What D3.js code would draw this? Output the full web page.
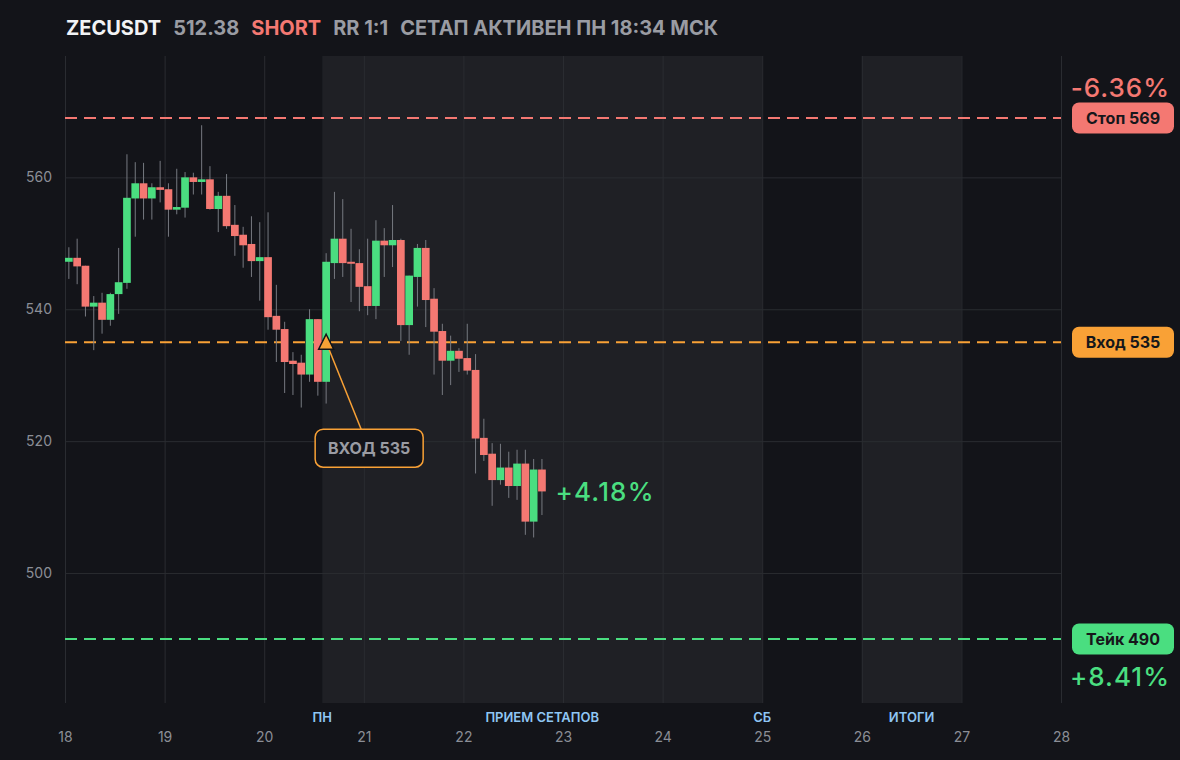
<!DOCTYPE html>
<html>
<head>
<meta charset="utf-8">
<script src="https://cdn.jsdelivr.net/npm/d3@7"></script>
<style>
    html, body { margin: 0; padding: 0; background: #131419; }
    svg { display: block; font-family: Inter, "Noto Sans", sans-serif; }
</style>
</head>
<body>
<div id="chart"></div>
<script>
// ZECUSDT 2h candles with stop / entry / take levels and session shading.

const WIDTH = 1180;
const HEIGHT = 760;
const MARGIN = { top: 56, right: 119, bottom: 57, left: 65 };
const INNER_W = WIDTH - MARGIN.left - MARGIN.right;
const INNER_H = HEIGHT - MARGIN.top - MARGIN.bottom;

const COLORS = {
    bg: "#131419",
    shade: "#1f2025",
    grid: "#2a2c31",
    tick: "#8b8e96",
    wick: "#767980",
    up: "#4ade80",
    down: "#f47872",
    entry: "#f9a136",
    session: "#8fc6f4",
    head: "#9a9ca3",
};

// first candle opens 18th 00:00, every candle is 2h
const START = Date.UTC(2025, 10, 18);
const STEP_H = 2;
const X_DOMAIN = [new Date(START), new Date(Date.UTC(2025, 10, 28))];
const Y_DOMAIN = [480.3, 578.4];
const Y_TICKS = [500, 520, 540, 560];

const opens = [
    547.2, 547.8, 546.6, 540.4, 541.0, 538.4, 542.3, 544.0, 556.8, 559.1,
    556.8, 558.5, 558.2, 555.1, 555.4, 560.0, 559.3, 559.7, 555.2, 557.2,
    552.8, 551.3, 549.9, 547.3, 547.9, 539.0, 537.0, 532.2, 531.9, 530.1,
    538.5, 529.0, 547.0, 550.7, 547.2, 547.0, 543.5, 540.5, 550.4, 549.7,
    550.5, 537.6, 544.9, 549.3, 541.6, 536.7, 532.2, 533.7, 532.6, 530.8,
    520.5, 518.1, 514.1, 516.0, 513.2, 516.6, 507.8, 515.7,
];
const highs = [
    549.4, 550.7, 546.6, 542.0, 542.5, 542.5, 549.3, 563.5, 562.3, 562.2,
    559.1, 562.5, 559.1, 561.3, 560.8, 560.7, 567.9, 561.7, 557.8, 560.5,
    555.8, 552.5, 554.1, 553.2, 554.7, 543.7, 538.1, 533.5, 533.1, 540.0,
    538.5, 548.5, 557.8, 556.7, 552.2, 549.1, 550.7, 553.5, 552.3, 555.8,
    550.7, 545.1, 549.9, 550.5, 543.2, 537.8, 536.0, 534.1, 537.8, 533.2,
    523.4, 519.7, 519.6, 518.4, 518.7, 518.7, 517.3, 517.3,
];
const lows = [
    544.6, 543.8, 538.9, 533.8, 536.3, 537.5, 539.3, 543.1, 551.0, 553.6,
    553.6, 556.2, 551.0, 554.4, 553.9, 557.4, 557.4, 555.1, 551.7, 552.2,
    548.1, 546.3, 544.9, 541.3, 536.9, 532.0, 527.3, 527.0, 525.1, 529.0,
    526.9, 525.7, 544.6, 544.9, 541.1, 539.7, 539.1, 538.5, 544.9, 546.4,
    535.2, 533.1, 540.4, 537.3, 530.1, 527.0, 528.5, 530.5, 530.1, 515.1,
    517.0, 510.2, 513.4, 511.4, 511.1, 505.8, 505.4, 508.8,
];
const closes = [
    547.8, 546.5, 540.4, 541.0, 538.4, 542.3, 544.1, 556.9, 559.1, 556.8,
    558.5, 558.1, 555.1, 555.5, 560.0, 559.3, 559.7, 555.2, 557.2, 552.6,
    551.1, 549.7, 547.3, 547.9, 538.8, 536.9, 532.0, 531.7, 530.1, 538.5,
    529.0, 547.2, 550.7, 547.0, 546.9, 543.4, 540.5, 550.4, 549.7, 550.5,
    537.6, 545.1, 549.3, 541.4, 536.6, 532.2, 533.7, 532.5, 530.7, 520.4,
    517.9, 514.1, 516.0, 513.2, 516.6, 507.8, 515.7, 512.38,
];

// trade levels
const LEVELS = [
    { key: "stop", price: 569, label: "Стоп 569", pct: "-6.36%", color: COLORS.down },
    { key: "entry", price: 535, label: "Вход 535", pct: null, color: COLORS.entry },
    { key: "take", price: 490, label: "Тейк 490", pct: "+8.41%", color: COLORS.up },
];

// shaded sessions [start, end] as hours from START
const SESSIONS = [
    { from: 62, to: 168, label: "ПРИЕМ СЕТАПОВ", startLabel: "ПН", endLabel: "СБ" },
    { from: 192, to: 216, label: "ИТОГИ" },
];

const ENTRY_CANDLE = 31;
const ENTRY_PRICE = 535;
const CURRENT_PCT = "+4.18%";

const HEADER = [
    { text: "ZECUSDT", color: "#f2f3f5" },
    { text: "512.38", color: COLORS.head },
    { text: "SHORT", color: COLORS.down },
    { text: "RR 1:1", color: COLORS.head },
    { text: "СЕТАП АКТИВЕН ПН 18:34 МСК", color: COLORS.head },
];

const hoursToDate = (h) => new Date(START + h * 3600 * 1000);

const candles = opens.map((o, i) => ({
    t: hoursToDate(i * STEP_H),
    t1: hoursToDate((i + 1) * STEP_H),
    open: o,
    high: highs[i],
    low: lows[i],
    close: closes[i],
}));

const svg = d3.select("#chart")
    .append("svg")
    .attr("width", WIDTH)
    .attr("height", HEIGHT)
    .attr("viewBox", `0 0 ${WIDTH} ${HEIGHT}`);

svg.append("rect")
    .attr("width", WIDTH).attr("height", HEIGHT)
    .attr("fill", COLORS.bg);

const g = svg.append("g")
    .attr("transform", `translate(${MARGIN.left},${MARGIN.top})`);

const x = d3.scaleUtc().domain(X_DOMAIN).range([0, INNER_W]);
const y = d3.scaleLinear().domain(Y_DOMAIN).range([INNER_H, 0]);

// Session shading
g.selectAll("rect.session")
    .data(SESSIONS)
    .join("rect")
    .attr("class", "session")
    .attr("x", (d) => x(hoursToDate(d.from)))
    .attr("width", (d) => x(hoursToDate(d.to)) - x(hoursToDate(d.from)))
    .attr("y", 0)
    .attr("height", INNER_H)
    .attr("fill", COLORS.shade);

// X axis — day grid lines + labels
const xAxis = g.append("g")
    .attr("transform", `translate(0,${INNER_H})`)
    .call(
        d3.axisBottom(x)
            .ticks(d3.utcDay.every(1))
            .tickFormat(d3.utcFormat("%-d"))
            .tickSize(INNER_H)
            .tickPadding(0),
    );
xAxis.select(".domain").remove();
xAxis.selectAll(".tick line")
    .attr("stroke", COLORS.grid)
    .attr("y2", -INNER_H);
xAxis.selectAll(".tick text")
    .attr("y", 34)
    .attr("dy", "0.35em")
    .attr("fill", COLORS.tick)
    .attr("font-size", 14)
    .attr("font-family", "Inter, sans-serif");

// Y axis — price grid
const yAxis = g.append("g")
    .call(
        d3.axisLeft(y)
            .tickValues(Y_TICKS)
            .tickSize(-INNER_W)
            .tickPadding(13),
    );
yAxis.select(".domain").remove();
yAxis.selectAll(".tick line").attr("stroke", COLORS.grid);
yAxis.selectAll(".tick text")
    .attr("fill", COLORS.tick)
    .attr("font-size", 14)
    .attr("font-family", "Inter, sans-serif");

// Session labels under the plot
const sessionLabels = [];
for (const s of SESSIONS) {
    const x0 = x(hoursToDate(s.from));
    const x1 = x(hoursToDate(s.to));
    if (s.startLabel) sessionLabels.push({ x: x0, text: s.startLabel });
    sessionLabels.push({ x: (x0 + x1) / 2, text: s.label });
    if (s.endLabel) sessionLabels.push({ x: x1, text: s.endLabel });
}
g.selectAll("text.session-label")
    .data(sessionLabels)
    .join("text")
    .attr("class", "session-label")
    .attr("x", (d) => d.x)
    .attr("y", INNER_H + 14)
    .attr("dy", "0.35em")
    .attr("text-anchor", "middle")
    .attr("fill", COLORS.session)
    .attr("font-size", 13)
    .attr("font-weight", 600)
    .text((d) => d.text);

// Level lines
g.selectAll("line.level")
    .data(LEVELS)
    .join("line")
    .attr("class", "level")
    .attr("x1", 0).attr("x2", INNER_W)
    .attr("y1", (d) => y(d.price)).attr("y2", (d) => y(d.price))
    .attr("stroke", (d) => d.color)
    .attr("stroke-width", 2)
    .attr("stroke-dasharray", "12,7");

// Candles
const cg = g.append("g").attr("class", "candles");
const bw = (d) => x(d.t1) - x(d.t) - 0.6;

cg.selectAll("line.wick")
    .data(candles)
    .join("line")
    .attr("class", "wick")
    .attr("x1", (d) => x(d.t) + bw(d) / 2)
    .attr("x2", (d) => x(d.t) + bw(d) / 2)
    .attr("y1", (d) => y(d.high))
    .attr("y2", (d) => y(d.low))
    .attr("stroke", COLORS.wick)
    .attr("stroke-width", 1);

cg.selectAll("rect.body")
    .data(candles)
    .join("rect")
    .attr("class", "body")
    .attr("x", (d) => x(d.t))
    .attr("width", bw)
    .attr("y", (d) => y(Math.max(d.open, d.close)))
    .attr("height", (d) => Math.max(1.5, Math.abs(y(d.open) - y(d.close))))
    .attr("fill", (d) => (d.close >= d.open ? COLORS.up : COLORS.down));

// Current P/L next to the last candle
const last = candles[candles.length - 1];
g.append("text")
    .attr("x", x(last.t1) + 9)
    .attr("y", y(last.close) + 10)
    .attr("fill", COLORS.up)
    .attr("font-size", 26)
    .attr("font-weight", 500)
    .attr("letter-spacing", 1.2)
    .text(CURRENT_PCT);

// Entry marker + callout
const ec = candles[ENTRY_CANDLE];
const ex = x(ec.t) + bw(ec) / 2;
const ey = y(ENTRY_PRICE);
const box = { dx: -11, dy: 87, w: 108, h: 38 };

g.append("line")
    .attr("x1", ex).attr("y1", ey)
    .attr("x2", ex + box.dx + box.w / 2 - 8).attr("y2", ey + box.dy)
    .attr("stroke", COLORS.entry)
    .attr("stroke-width", 1.5);

g.append("path")
    .attr("d", `M${ex},${ey - 8}L${ex + 7.5},${ey + 7}L${ex - 7.5},${ey + 7}Z`)
    .attr("fill", COLORS.entry)
    .attr("stroke", COLORS.bg)
    .attr("stroke-width", 1.5);

g.append("rect")
    .attr("x", ex + box.dx).attr("y", ey + box.dy)
    .attr("width", box.w).attr("height", box.h)
    .attr("rx", 8)
    .attr("fill", COLORS.bg)
    .attr("stroke", COLORS.entry)
    .attr("stroke-width", 1.5);

g.append("text")
    .attr("x", ex + box.dx + box.w / 2)
    .attr("y", ey + box.dy + box.h / 2)
    .attr("dy", "0.35em")
    .attr("text-anchor", "middle")
    .attr("fill", COLORS.head)
    .attr("font-size", 16)
    .attr("font-weight", 700)
    .text(`ВХОД ${ENTRY_PRICE}`);

// Level badges on the right
const badgeX = INNER_W + 11;
const badgeW = 102;
const badgeH = 31;
const badges = g.selectAll("g.badge")
    .data(LEVELS)
    .join("g")
    .attr("class", "badge")
    .attr("transform", (d) => `translate(${badgeX},${y(d.price)})`);
badges.append("rect")
    .attr("y", -badgeH / 2)
    .attr("width", badgeW).attr("height", badgeH)
    .attr("rx", 7)
    .attr("fill", (d) => d.color);
badges.append("text")
    .attr("x", badgeW / 2)
    .attr("dy", "0.35em")
    .attr("text-anchor", "middle")
    .attr("fill", "#16171b")
    .attr("font-size", 16)
    .attr("font-weight", 700)
    .text((d) => d.label);
badges.filter((d) => d.pct)
    .append("text")
    .attr("x", badgeW - 4)
    .attr("y", (d) => (d.price > ENTRY_PRICE ? -21 : 47))
    .attr("text-anchor", "end")
    .attr("fill", (d) => d.color)
    .attr("font-size", 26)
    .attr("font-weight", 500)
    .attr("letter-spacing", 1)
    .text((d) => d.pct);

// Header line
let hx = MARGIN.left + 1;
for (const h of HEADER) {
    const t = svg.append("text")
        .attr("x", hx)
        .attr("y", 35)
        .attr("fill", h.color)
        .attr("font-size", 20)
        .attr("font-weight", 700)
        .text(h.text);
    hx += t.node().getComputedTextLength() + 12;
}
</script>
</body>
</html>
